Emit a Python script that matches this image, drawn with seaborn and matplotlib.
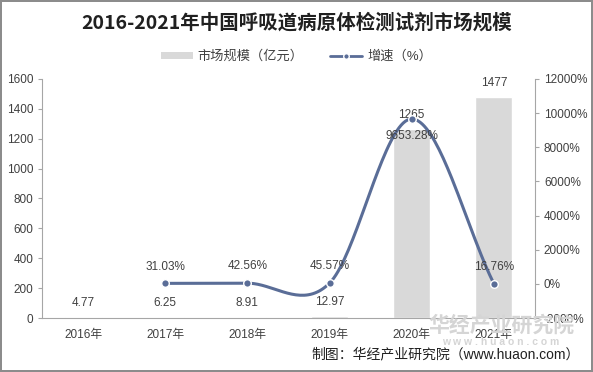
import numpy as np
import pandas as pd
import matplotlib
matplotlib.use("Agg")
import matplotlib.pyplot as plt
import seaborn as sns
from matplotlib.lines import Line2D
from matplotlib.patches import Patch

# ============================================================
# ДАННЫЕ
# ============================================================
years = ["2016年", "2017年", "2018年", "2019年", "2020年", "2021年"]
market_size = [4.77, 6.25, 8.91, 12.97, 1265, 1477]
size_labels = ["4.77", "6.25", "8.91", "12.97", "1265", "1477"]
growth_years = ["2017年", "2018年", "2019年", "2020年", "2021年"]
growth = [31.03, 42.56, 45.57, 9653.28, 16.76]
growth_labels = ["31.03%", "42.56%", "45.57%", "9653.28%", "16.76%"]

BAR_COLOR = "#d9d9d9"
LINE_COLOR = "#5a6d97"
AXIS_COLOR = "#a6a6a6"
TEXT_COLOR = "#404040"
FS = 8.5

sns.set_theme(style="white")
plt.rcParams["font.family"] = ["Liberation Sans", "Noto Sans CJK SC", "DejaVu Sans"]

fig = plt.figure(figsize=(5.93, 3.72), dpi=100)
fig.patch.set_edgecolor("#8c8c8c")
fig.patch.set_linewidth(1.5)
ax = fig.add_axes([0.071, 0.145, 0.831, 0.643])

df = pd.DataFrame({"year": years, "size": market_size})
sns.barplot(data=df, x="year", y="size", color=BAR_COLOR, width=0.45,
            saturation=1, ax=ax)
ax.set_xlim(-0.5, 5.5)
ax.set_ylim(0, 1600)
ax.set_yticks(np.arange(0, 1601, 200))
ax.set_xlabel("")
ax.set_ylabel("")
for i, (v, lab) in enumerate(zip(market_size, size_labels)):
    ax.annotate(lab, (i, v), xytext=(0, 10), textcoords="offset points",
                ha="center", va="center", fontsize=FS, color=TEXT_COLOR)

# --- правая ось: сглаженная линия роста (как в Excel) ---
ax2 = ax.twinx()
ax2.set_ylim(-2000, 12000)
ax2.set_yticks(np.arange(-2000, 12001, 2000))
ax2.set_yticklabels([f"{t}%" for t in range(-2000, 12001, 2000)])

gx = np.array([years.index(y) for y in growth_years], dtype=float)
gy = np.array(growth, dtype=float)
# сглаживание в "пиксельных" координатах
sx, sy = 82.0, 239.0 / 14000.0
P = np.column_stack([gx * sx, gy * sy])
Pp = np.vstack([P[0] - (P[1] - P[0]), P, P[-1] + (P[-1] - P[-2])])
curve = []
t = np.linspace(0, 1, 40)
for k in range(1, len(Pp) - 2):
    p0, p1, p2, p3 = Pp[k - 1], Pp[k], Pp[k + 1], Pp[k + 2]
    c1 = p1 + (p2 - p0) / 6.0
    c2 = p2 - (p3 - p1) / 6.0
    b = ((1 - t) ** 3)[:, None] * p1 + (3 * (1 - t) ** 2 * t)[:, None] * c1 \
        + (3 * (1 - t) * t ** 2)[:, None] * c2 + (t ** 3)[:, None] * p2
    curve.append(b)
curve = np.vstack(curve)
ax2.plot(curve[:, 0] / sx, curve[:, 1] / sy, color=LINE_COLOR, lw=2.2,
         solid_capstyle="round", zorder=3)
ax2.scatter(gx, gy, s=30, color=LINE_COLOR, edgecolor="white",
            linewidth=1.0, zorder=4)
for x, v, lab in zip(gx, gy, growth_labels):
    off = -12 if v > 5000 else 12
    ax2.annotate(lab, (x, v), xytext=(0, off), textcoords="offset points",
                 ha="center", va="center", fontsize=FS, color=TEXT_COLOR)

for a in (ax, ax2):
    for s in a.spines.values():
        s.set_visible(False)
    a.tick_params(labelsize=FS, colors=TEXT_COLOR, length=3,
                  color=AXIS_COLOR, width=0.8)
ax.spines["left"].set_visible(True)
ax.spines["bottom"].set_visible(True)
ax2.spines["right"].set_visible(True)
for s in (ax.spines["left"], ax.spines["bottom"], ax2.spines["right"]):
    s.set_color(AXIS_COLOR)
    s.set_linewidth(0.8)
ax.tick_params(axis="x", length=0, pad=8, labelsize=FS)
ax.set_xticks(np.arange(-0.5, 6, 1), minor=True)
ax.tick_params(axis="x", which="minor", length=3, color=AXIS_COLOR, width=0.8)
ax.tick_params(axis="y", left=True)
ax2.tick_params(axis="y", right=True)

fig.text(0.5, 0.94, "2016-2021年中国呼吸道病原体检测试剂市场规模",
         ha="center", va="center", fontsize=14, fontweight="bold",
         color="#202020", family=["Noto Sans CJK SC", "DejaVu Sans"])

handles = [
    Patch(facecolor=BAR_COLOR, edgecolor="none", label="市场规模（亿元）"),
    Line2D([0], [0], color=LINE_COLOR, lw=2, marker="o", markersize=4,
           markeredgecolor="white", label="增速（%）"),
]
fig.legend(handles=handles, loc="center", bbox_to_anchor=(0.5, 0.847),
           ncol=2, frameon=False, fontsize=9.5, handlelength=2.4,
           handleheight=0.5, handletextpad=0.4, columnspacing=2.0,
           labelcolor=TEXT_COLOR)

# водяной знак и источник
fig.text(0.845, 0.125, "华经产业研究院", ha="center", va="center",
         fontsize=15, color="#d5d5d5", fontweight="bold",
         family=["Noto Sans CJK SC", "DejaVu Sans"], zorder=0)
fig.text(0.845, 0.08, "w w w . h u a o n . c o m", ha="center", va="center",
         fontsize=7.5, color="#d5d5d5", fontweight="bold", zorder=0)
fig.text(0.977, 0.048, "制图：华经产业研究院（www.huaon.com）", ha="right",
         va="center", fontsize=10, color="#202020")

fig.savefig("out.png", dpi=100)
